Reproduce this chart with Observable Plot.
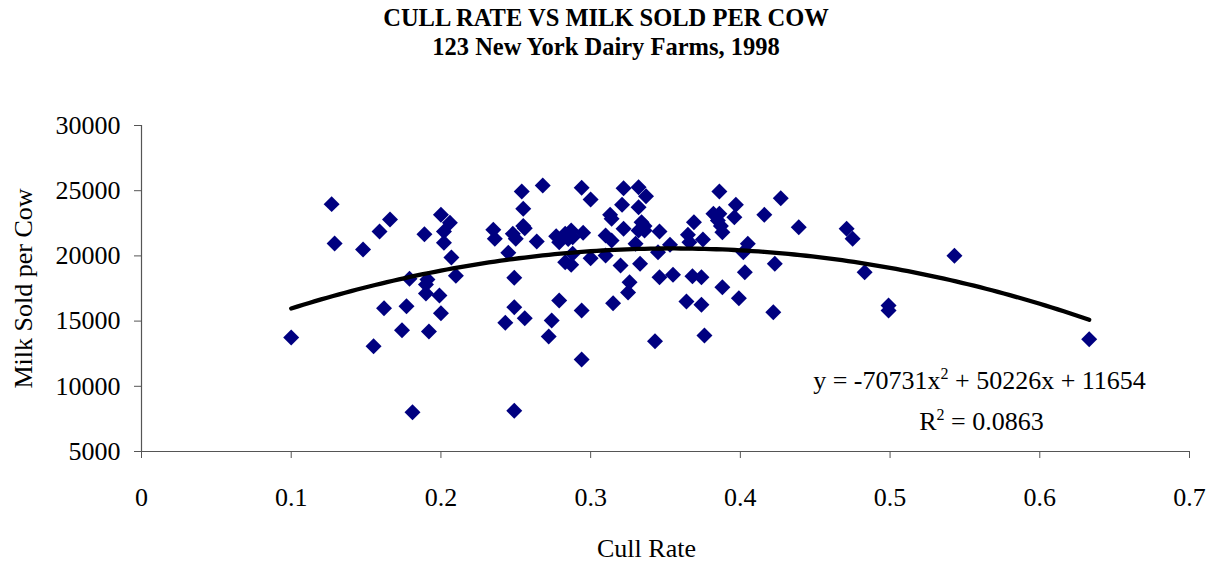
<!DOCTYPE html>
<html>
<head>
<meta charset="utf-8">
<script src="https://cdn.jsdelivr.net/npm/d3@7"></script>
<script src="https://cdn.jsdelivr.net/npm/@observablehq/plot@0.6"></script>
<style>
  html, body { margin: 0; padding: 0; background: #fff; }
  #title { width: 1212px; height: 70px; box-sizing: border-box; padding-top: 3px; text-align: center;
    font-family: "Liberation Serif", "Times New Roman", serif; font-weight: bold; font-size: 24.5px; line-height: 29px; color: #000; }
</style>
</head>
<body>
<div id="title"><div>CULL RATE VS MILK SOLD PER COW</div><div>123 New York Dairy Farms, 1998</div></div>
<div id="chart"></div>
<script>
const cullRate = [
  0.100, 0.127, 0.129, 0.148, 0.155, 0.159, 0.166, 0.162, 0.177, 0.174,
  0.179, 0.181, 0.189, 0.191, 0.190, 0.192, 0.199, 0.200, 0.206, 0.202,
  0.202, 0.207, 0.210, 0.200, 0.190,
  0.235, 0.236, 0.245, 0.248, 0.250, 0.256, 0.254, 0.255, 0.249, 0.249,
  0.243, 0.256, 0.249, 0.264, 0.268, 0.279, 0.274, 0.272, 0.277, 0.279,
  0.283, 0.287, 0.288, 0.295, 0.283, 0.287, 0.288, 0.294, 0.300, 0.300,
  0.294, 0.294,
  0.322, 0.332, 0.337, 0.321, 0.332, 0.313, 0.314, 0.334, 0.322, 0.310,
  0.314, 0.332, 0.336, 0.330, 0.346, 0.345, 0.353, 0.310, 0.320, 0.333,
  0.346, 0.355, 0.368, 0.374, 0.326, 0.325, 0.315, 0.364, 0.374, 0.343,
  0.376, 0.369, 0.365, 0.366, 0.375,
  0.386, 0.397, 0.382, 0.386, 0.385, 0.396, 0.388, 0.427, 0.416, 0.439,
  0.405, 0.402, 0.423, 0.403, 0.388, 0.399, 0.422, 0.471, 0.475, 0.483,
  0.499, 0.499, 0.543, 0.633,
  0.285, 0.387, 0.255, 0.336
];
const milkSold = [
  13740, 23970, 20950, 20490, 13080, 21870, 22790, 15990, 16140, 14300,
  18240, 8010, 21660, 18190, 17120, 14200, 16960, 23150, 22540, 21870,
  21000, 19880, 18470, 15610, 17810,
  22000, 21310, 20240, 21690, 21310, 22120, 24940, 23610, 18320, 16070,
  14870, 15220, 8120, 21100, 25400, 16580, 15050, 13820, 21510, 21050,
  21690, 21950, 21430, 21770, 19520, 19320, 20160, 25220, 24330, 19820,
  15810, 12060,
  25190, 25270, 24580, 23920, 23730, 23150, 22840, 22580, 22080, 21560,
  21180, 21950, 21950, 20930, 21870, 20280, 20850, 20030, 19260, 19390,
  18370, 18550, 18440, 18370, 17980, 17190, 16370, 16500, 16250, 13460,
  13900, 22580, 21620, 21050, 21260,
  24940, 23920, 23230, 23230, 22710, 22970, 21820, 24420, 23150, 22200,
  20930, 20280, 19390, 18750, 17600, 16760, 15680, 22080, 21310, 18750,
  16200, 15810, 20010, 13610,
  21300, 22300, 22300, 22300
];
const xTicks = [0, 0.1, 0.2, 0.3, 0.4, 0.5, 0.6, 0.7];
const yTicks = [5000, 10000, 15000, 20000, 25000, 30000];
const trendCoef = [-70731, 50226, 11654]; // a x^2 + b x + c
const trendRange = [0.1, 0.633];
const equationText = "y = -70731x2 + 50226x + 11654";
const r2Text = "R2 = 0.0863";

const points = cullRate.map((x, i) => ({x, y: milkSold[i]}));
const trend = d3.range(trendRange[0], trendRange[1] + 1e-9, 0.004).concat([trendRange[1]])
  .map(x => ({x, y: trendCoef[0] * x * x + trendCoef[1] * x + trendCoef[2]}));

const font = "Liberation Serif, Times New Roman, serif";
const axisColor = "#555";
const fs = 26;

const chart = Plot.plot({
  width: 1212,
  height: 495,
  marginTop: 55,
  marginBottom: 114,
  marginLeft: 141,
  marginRight: 23,
  style: {fontFamily: font, fontSize: fs + "px", color: "#000", background: "#fff", overflow: "visible"},
  x: {domain: [0, 0.7]},
  y: {domain: [5000, 30000]},
  marks: [
    Plot.axisX({ticks: xTicks, tickSize: 7, tickPadding: 29, label: null, fontSize: fs, stroke: axisColor, fill: "#000",
      tickFormat: d => String(+d.toFixed(1))}),
    Plot.axisY({ticks: yTicks, tickSize: 7, tickPadding: 14, label: null, fontSize: fs, stroke: axisColor, fill: "#000",
      tickFormat: d => String(d)}),
    Plot.ruleY([5000], {stroke: axisColor, strokeWidth: 1.2}),
    Plot.ruleX([0], {stroke: axisColor, strokeWidth: 1.2}),
    Plot.dot(points, {x: "x", y: "y", symbol: "diamond2", r: 7.2, fill: "#000080", stroke: "none"}),
    Plot.line(trend, {x: "x", y: "y", stroke: "#000", strokeWidth: 4.3, curve: "linear", strokeLinecap: "round"}),
    Plot.text([equationText], {frameAnchor: "top-left", dx: 838, dy: 255, textAnchor: "middle", lineAnchor: "middle", fontSize: fs, fill: "#000", className: "eq"}),
    Plot.text([r2Text], {frameAnchor: "top-left", dx: 840, dy: 296, textAnchor: "middle", lineAnchor: "middle", fontSize: fs, fill: "#000", className: "eq"}),
    Plot.text(["Milk Sold per Cow"], {frameAnchor: "left", dx: -118, rotate: -90, textAnchor: "middle", lineAnchor: "middle", fontSize: fs, fill: "#000"}),
    Plot.text(["Cull Rate"], {frameAnchor: "bottom", dx: -19, dy: 97, textAnchor: "middle", lineAnchor: "middle", fontSize: fs, fill: "#000"})
  ]
});
document.getElementById("chart").appendChild(chart);

// Render the exponent "2" as a raised, smaller superscript (still real text)
chart.querySelectorAll("g.eq text").forEach(t => {
  const s = t.textContent;
  const parts = s.split(/(?<=[xR])2/);
  if (parts.length < 2) return;
  while (t.firstChild) t.removeChild(t.firstChild);
  const ns = "http://www.w3.org/2000/svg";
  parts.forEach((p, i) => {
    const a = document.createElementNS(ns, "tspan");
    a.textContent = p;
    if (i > 0) a.setAttribute("dy", "10");
    t.appendChild(a);
    if (i < parts.length - 1) {
      const sup = document.createElementNS(ns, "tspan");
      sup.textContent = "2";
      sup.setAttribute("dy", "-10");
      sup.setAttribute("font-size", "16");
      t.appendChild(sup);
    }
  });
});
</script>
</body>
</html>
